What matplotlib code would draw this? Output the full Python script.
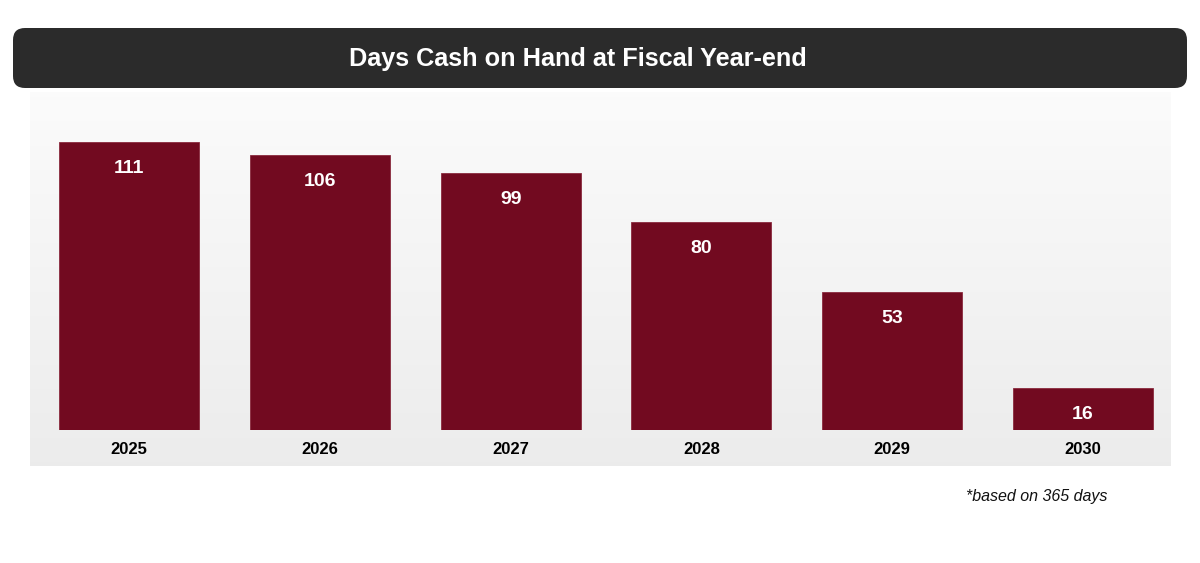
import matplotlib.pyplot as plt
import numpy as np
from matplotlib.patches import FancyBboxPatch

plt.rcParams['font.family'] = ['Liberation Sans', 'DejaVu Sans']

# Data
years = ['2025', '2026', '2027', '2028', '2029', '2030']
days_cash = [111, 106, 99, 80, 53, 16]
title = 'Days Cash on Hand at Fiscal Year-end'
note = '*based on 365 days'

W, H = 1200, 563
fig = plt.figure(figsize=(W / 100, H / 100), dpi=100)

# Background layer in pixel coordinates
bg = fig.add_axes([0, 0, 1, 1])
bg.set_xlim(0, W)
bg.set_ylim(H, 0)
bg.axis('off')

# Gradient panel behind the bars
grad = np.linspace(0, 1, 256).reshape(-1, 1)
top_c = np.array([0.985, 0.985, 0.985])
bot_c = np.array([0.925, 0.925, 0.925])
img = top_c + (bot_c - top_c) * grad[..., None]
bg.imshow(img, extent=[30, 1171, 466, 92], aspect='auto', zorder=0)

# Title bar
bar = FancyBboxPatch((13, 28), 1174, 60, boxstyle='round,pad=0,rounding_size=12',
                     facecolor='#2b2b2b', edgecolor='none', zorder=2)
bg.add_patch(bar)
bg.text(578, 59, title, color='white', fontsize=18.2, fontweight='bold',
        ha='center', va='center', zorder=3)
bg.text(1037, 496, note, fontsize=11.5, style='italic', color='#111111',
        ha='center', va='center')
bg.set_xlim(0, W)
bg.set_ylim(H, 0)

# Bar chart axes
left, right, bottom, top = 30, 1171, 430, 92
ax = fig.add_axes([left / W, 1 - bottom / H, (right - left) / W, (bottom - top) / H])
ax.patch.set_alpha(0)
x = np.arange(len(years))
bars = ax.bar(x, days_cash, width=0.734, color='#720a20', edgecolor='#8a2a3e', linewidth=0.6)
ax.set_xlim(-0.519, 5.461)
ax.set_ylim(0, 111 * 338 / 288)
for b, v in zip(bars, days_cash):
    ax.annotate(str(v), (b.get_x() + b.get_width() / 2, v), xytext=(0, -19),
                textcoords='offset points', ha='center', va='center',
                color='white', fontsize=14, fontweight='bold')
ax.set_xticks(x)
ax.set_xticklabels(years, fontsize=12, fontweight='bold')
ax.tick_params(axis='x', length=0, pad=9)
ax.set_yticks([])
for s in ax.spines.values():
    s.set_visible(False)

fig.savefig('out.png', dpi=100)
